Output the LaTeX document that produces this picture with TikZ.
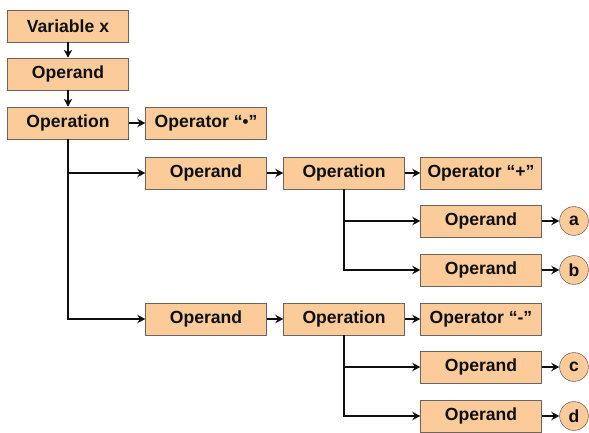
\documentclass[tikz,border=0pt]{standalone}
\usepackage{fontspec}
\setmainfont{Liberation Sans}
\usetikzlibrary{arrows.meta,positioning}
\definecolor{peach}{RGB}{251,203,153}
\definecolor{edge}{RGB}{110,100,95}
\definecolor{ink}{RGB}{15,15,15}
\tikzset{
  >={Stealth[length=2mm,width=2.1mm]},
  part/.style={draw=edge,fill=peach,minimum width=30.2mm,minimum height=8mm,
    inner sep=0pt,font=\fontsize{12.5}{14}\selectfont\bfseries,text=ink},
  leaf/.style={circle,draw=edge,fill=peach,minimum size=7.2mm,inner sep=0pt,
    font=\fontsize{12.5}{14}\selectfont\bfseries,text=ink},
  link/.style={->,line width=1.8pt,draw=ink},
}
\begin{document}
\begin{tikzpicture}[x=0.025cm,y=-0.025cm]
  \useasboundingbox (0,0) rectangle (589,432);
  % main column
  \node[part] (var) at (68,26) {Variable x};
  \node[part] (opd0) at (68,74) {Operand};
  \node[part] (ops0) at (68,123) {Operation};
  \node[part] (opr0) at (206,123) {Operator “{\large•}”};
  % upper branch
  \node[part] (opd1) at (206,173) {Operand};
  \node[part] (ops1) at (344,173) {Operation};
  \node[part] (opr1) at (481,173) {Operator “+”};
  \node[part] (opda) at (481,221) {Operand};
  \node[part] (opdb) at (481,270) {Operand};
  \node[leaf] (a) at (574,221) {a};
  \node[leaf] (b) at (574,270) {b};
  % lower branch
  \node[part] (opd2) at (206,319) {Operand};
  \node[part] (ops2) at (344,319) {Operation};
  \node[part] (opr2) at (481,319) {Operator “-”};
  \node[part] (opdc) at (481,367) {Operand};
  \node[part] (opdd) at (481,416) {Operand};
  \node[leaf] (c) at (574,367) {c};
  \node[leaf] (d) at (574,416) {d};

  \draw[link] (var) -- (opd0);
  \draw[link] (opd0) -- (ops0);
  \draw[link] (ops0) -- (opr0);
  \draw[link] (ops0.south) |- (opd1.west);
  \draw[link] (ops0.south) |- (opd2.west);
  \draw[link] (opd1) -- (ops1);
  \draw[link] (ops1) -- (opr1);
  \draw[link] (ops1.south) |- (opda.west);
  \draw[link] (ops1.south) |- (opdb.west);
  \draw[link] (opda) -- (a);
  \draw[link] (opdb) -- (b);
  \draw[link] (opd2) -- (ops2);
  \draw[link] (ops2) -- (opr2);
  \draw[link] (ops2.south) |- (opdc.west);
  \draw[link] (ops2.south) |- (opdd.west);
  \draw[link] (opdc) -- (c);
  \draw[link] (opdd) -- (d);
\end{tikzpicture}
\end{document}
